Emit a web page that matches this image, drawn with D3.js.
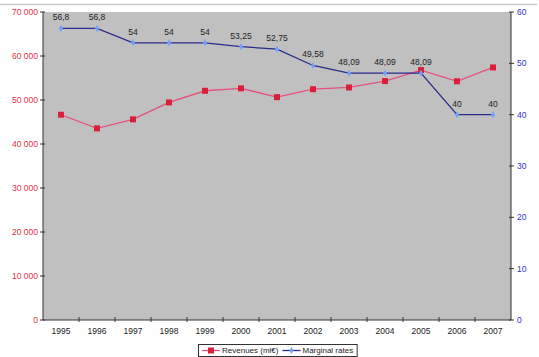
<!DOCTYPE html>
<html><head><meta charset="utf-8">
<script src="https://cdn.jsdelivr.net/npm/d3@7"></script>
<style>body{margin:0;background:#fff;}svg{display:block;font-family:"Liberation Sans",Arial,sans-serif;}</style>
</head><body>
<svg id="c" width="539" height="357"></svg>
<script>
const years = ["1995","1996","1997","1998","1999","2000","2001","2002","2003","2004","2005","2006","2007"];
const revenues = [46650, 43550, 45600, 49450, 52100, 52650, 50650, 52450, 52850, 54300, 56800, 54250, 57400];
const marginalRates = [56.8, 56.8, 54, 54, 54, 53.25, 52.75, 49.58, 48.09, 48.09, 48.09, 40, 40];
const rateLabels = ["56,8","56,8","54","54","54","53,25","52,75","49,58","48,09","48,09","48,09","40","40"];
const leftTicks = [0,10000,20000,30000,40000,50000,60000,70000];
const rightTicks = [0,10,20,30,40,50,60];
const seriesNames = ["Revenues (ml€)", "Marginal rates"];

const svg = d3.select("#c");
const L = 43, R = 511, T = 12, B = 320;
const x = d3.scaleBand().domain(years).range([L, R]);
const yL = d3.scaleLinear().domain([0, 70000]).range([B, T]);
const yR = d3.scaleLinear().domain([0, 60]).range([B, T]);
const cx = d => x(d) + x.bandwidth()/2;

svg.append("line").attr("x1",0).attr("x2",537).attr("y1",4.5).attr("y2",4.5).attr("stroke","#c8c8c8").attr("stroke-width",1.5);
svg.append("rect").attr("x",L).attr("y",T).attr("width",R-L).attr("height",B-T).attr("fill","#c0c0c0");

const fmt = v => d3.format(",")(v).replace(/,/g," ");
const FS = 8.5;

const gl = svg.append("g");
gl.append("line").attr("x1",L).attr("x2",L).attr("y1",T).attr("y2",B).attr("stroke","#333");
leftTicks.forEach(t=>{
  gl.append("line").attr("x1",L-3).attr("x2",L+2).attr("y1",yL(t)).attr("y2",yL(t)).attr("stroke","#333");
  gl.append("text").attr("x",38).attr("y",yL(t)).attr("dy","0.35em").attr("text-anchor","end")
    .attr("font-size",FS).attr("fill","#e0304a").text(fmt(t));
});
const gr = svg.append("g");
gr.append("line").attr("x1",R).attr("x2",R).attr("y1",T).attr("y2",B).attr("stroke","#333");
rightTicks.forEach(t=>{
  gr.append("line").attr("x1",R-2).attr("x2",R+3).attr("y1",yR(t)).attr("y2",yR(t)).attr("stroke","#333");
  gr.append("text").attr("x",517).attr("y",yR(t)).attr("dy","0.35em").attr("text-anchor","start")
    .attr("font-size",FS).attr("fill","#3333cc").text(t);
});
const gx = svg.append("g");
gx.append("line").attr("x1",L).attr("x2",R).attr("y1",B).attr("y2",B).attr("stroke","#333");
years.forEach((yv,i)=>{
  const xb = x(yv);
  if(i>0) gx.append("line").attr("x1",xb).attr("x2",xb).attr("y1",B-3).attr("y2",B+2).attr("stroke","#333");
  gx.append("text").attr("x",cx(yv)).attr("y",331).attr("dy","0.35em").attr("text-anchor","middle")
    .attr("font-size",FS).attr("fill","#222").text(yv);
});

const lineL = d3.line().x((d,i)=>cx(years[i])).y(d=>yL(d));
svg.append("path").datum(revenues).attr("d",lineL).attr("fill","none").attr("stroke","#e8507e").attr("stroke-width",1.3);
svg.selectAll("rect.rev").data(revenues).enter().append("rect").attr("class","rev")
  .attr("x",(d,i)=>cx(years[i])-3).attr("y",d=>yL(d)-3).attr("width",6).attr("height",6).attr("fill","#d8203a");

const lineR = d3.line().x((d,i)=>cx(years[i])).y(d=>yR(d));
svg.append("path").datum(marginalRates).attr("d",lineR).attr("fill","none").attr("stroke","#2a2a8a").attr("stroke-width",1.3);
svg.selectAll("path.mr").data(marginalRates).enter().append("path").attr("class","mr")
  .attr("transform",(d,i)=>`translate(${cx(years[i])},${yR(d)})`)
  .attr("d",d3.symbol(d3.symbolDiamond,14)).attr("fill","#6fa0ff");
svg.selectAll("text.mrl").data(marginalRates).enter().append("text").attr("class","mrl")
  .attr("x",(d,i)=>cx(years[i])).attr("y",d=>yR(d)-8).attr("text-anchor","middle")
  .attr("font-size",FS).attr("fill","#222").text((d,i)=>rateLabels[i]);

// legend
const lg = svg.append("g");
const ly = 350.5;
const box = lg.append("rect").attr("x",198.5).attr("y",344.5).attr("height",12).attr("fill","#fff").attr("stroke","#333");
lg.append("line").attr("x1",202).attr("x2",220).attr("y1",ly).attr("y2",ly).attr("stroke","#e8507e").attr("stroke-width",1.3);
lg.append("rect").attr("x",208).attr("y",ly-3).attr("width",6).attr("height",6).attr("fill","#d8203a");
const t1 = lg.append("text").attr("x",222).attr("y",ly).attr("dy","0.35em").attr("font-size",8).attr("fill","#222").text(seriesNames[0]);
const w1 = t1.node().getComputedTextLength();
const x2 = 222 + w1 + 4;
lg.append("line").attr("x1",x2).attr("x2",x2+18).attr("y1",ly).attr("y2",ly).attr("stroke","#2a2a8a").attr("stroke-width",1.3);
lg.append("path").attr("transform",`translate(${x2+9},${ly})`).attr("d",d3.symbol(d3.symbolDiamond,14)).attr("fill","#6fa0ff");
const t2 = lg.append("text").attr("x",x2+20).attr("y",ly).attr("dy","0.35em").attr("font-size",8).attr("fill","#222").text(seriesNames[1]);
const w2 = t2.node().getComputedTextLength();
box.attr("width", x2+20+w2+4-198.5);
</script>
</body></html>
